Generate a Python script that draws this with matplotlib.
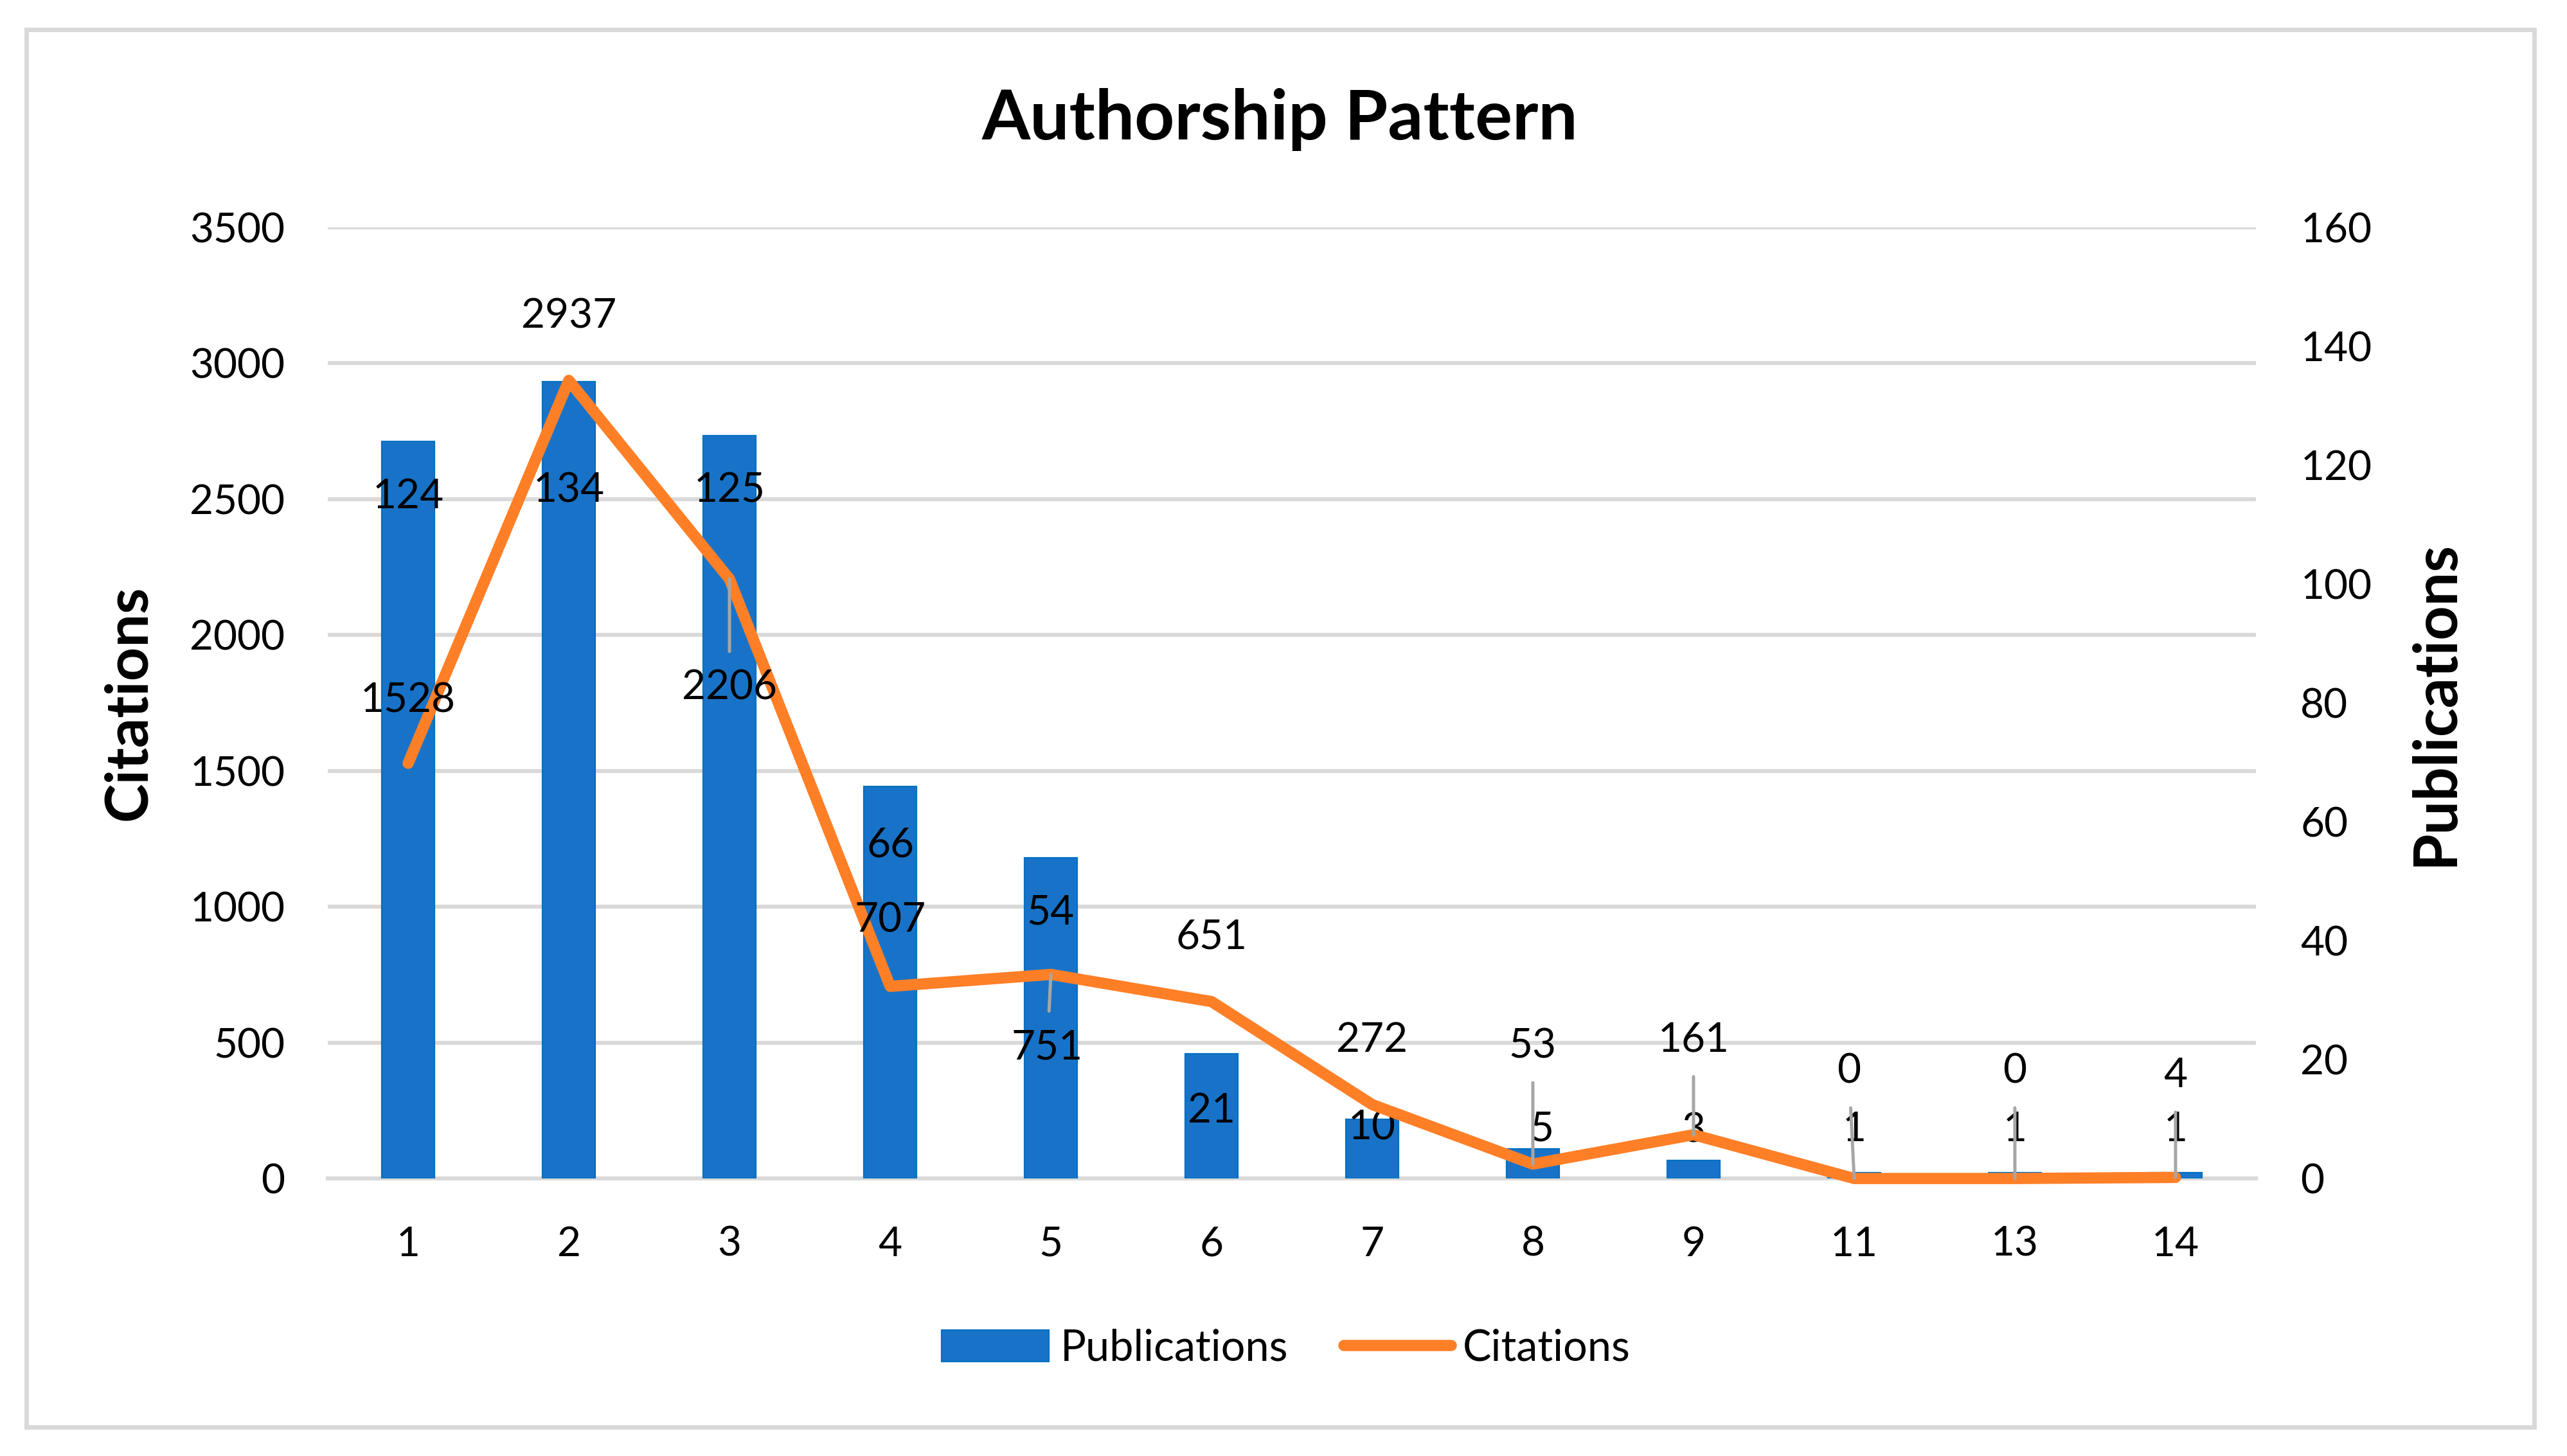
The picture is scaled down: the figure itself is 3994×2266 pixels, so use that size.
import matplotlib
matplotlib.use("Agg")
import matplotlib.pyplot as plt
from matplotlib.patches import Rectangle, Patch
from matplotlib.lines import Line2D

plt.rcParams['font.family'] = ['Lato', 'DejaVu Sans']

# data
authors = ['1', '2', '3', '4', '5', '6', '7', '8', '9', '11', '13', '14']
publications = [124, 134, 125, 66, 54, 21, 10, 5, 3, 1, 1, 1]
citations = [1528, 2937, 2206, 707, 751, 651, 272, 53, 161, 0, 0, 4]

# label offsets (points) copied from the Excel placement
pub_offsets = [(0, -31), (0, -61), (0, -31), (0, -33), (0, -31), (0, -32),
               (0, -5), (5, 11), (0, 17), (0, 24), (0, 24), (0, 24)]
cit_offsets = [(0, 35), (0, 36), (0, -61), (0, 37), (-2, -41), (0, 36),
               (0, 36), (0, 66), (0, 53), (-3, 60), (0, 60), (0, 57)]
cit_leader = [False, False, True, False, True, False, False, True, True, True, True, True]

BLUE = '#1873C8'
ORANGE = '#FF7F27'
GRID = '#D9D9D9'
LEADER = '#A6A6A6'
FS = 23

fig = plt.figure(figsize=(19.97, 11.33), dpi=200)
x = list(range(len(authors)))

# left axis: citations scale, gridlines
ax = fig.add_axes([0.1277, 0.1906, 0.7511, 0.6532])
ax.set_ylim(0, 3500)
ax.set_yticks(range(0, 3501, 500))
ax.set_xlim(-0.5, len(authors) - 0.5)
ax.set_xticks(x)
ax.set_xticklabels(authors)
ax.grid(axis='y', color=GRID, lw=2.2)
ax.set_axisbelow(True)
for s in ['top', 'left', 'right']:
    ax.spines[s].set_visible(False)
ax.spines['bottom'].set_color(GRID)
ax.spines['bottom'].set_linewidth(2.2)
ax.tick_params(axis='both', length=0, labelsize=FS)
ax.tick_params(axis='y', pad=24)
ax.tick_params(axis='x', pad=26.5)
ax.set_ylabel('Citations', fontsize=33, fontweight='bold')
ax.yaxis.set_label_coords(-0.089, 0.5)

# right axis: publications bars
axb = ax.twinx()
axb.set_ylim(0, 160)
axb.set_yticks(range(0, 161, 20))
axb.bar(x, publications, width=0.33, color=BLUE, edgecolor='#0070C0', lw=0.8)
for s in axb.spines.values():
    s.set_visible(False)
axb.tick_params(axis='y', length=0, labelsize=FS, pad=25)
axb.set_ylabel('Publications', fontsize=33.5, fontweight='bold', rotation=90)
axb.yaxis.set_label_coords(1.079, 0.5)

for xi, v, off in zip(x, publications, pub_offsets):
    axb.annotate(str(v), (xi, v), xytext=off, textcoords='offset points',
                 ha='center', va='center', fontsize=FS)

# line layer on top, same scale as left axis
axl = ax.twinx()
axl.set_ylim(ax.get_ylim())
axl.axis('off')
axl.plot(x, citations, color=ORANGE, lw=6.3, solid_capstyle='round',
         solid_joinstyle='round', clip_on=False)

for xi, v, off, lead in zip(x, citations, cit_offsets, cit_leader):
    arrow = None
    if lead:
        arrow = dict(arrowstyle='-', color=LEADER, lw=1.8, shrinkA=8, shrinkB=0)
    axl.annotate(str(v), (xi, v), xytext=off, textcoords='offset points',
                 ha='center', va='center', fontsize=FS, arrowprops=arrow)

fig.text(0.4985, 0.918, 'Authorship Pattern', ha='center', va='center',
         fontsize=39, fontweight='bold')

handles = [Patch(facecolor=BLUE, edgecolor='#0070C0', lw=0.8),
           Line2D([], [], color=ORANGE, lw=6.3, solid_capstyle='round')]
fig.legend(handles, ['Publications', 'Citations'], loc='center',
           bbox_to_anchor=(0.501, 0.0737), ncol=2, frameon=False, fontsize=24,
           handlelength=2.5, handleheight=0.76, handletextpad=0.27, columnspacing=1.3)

# outer chart border
fig.patches.append(Rectangle((0.0103, 0.0199), 0.977, 0.960, transform=fig.transFigure,
                             fill=False, edgecolor=GRID, lw=2.5))

fig.savefig('out.png', dpi=200)
